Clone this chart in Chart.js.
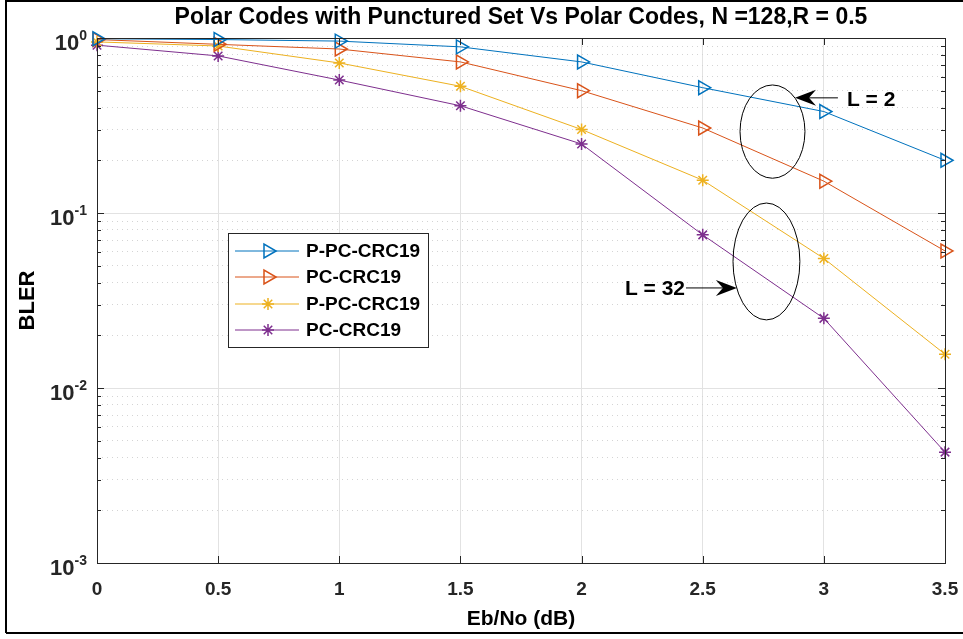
<!DOCTYPE html>
<html>
<head>
<meta charset="utf-8">
<script src="https://cdn.jsdelivr.net/npm/chart.js@4.4.1/dist/chart.umd.min.js"></script>
<style>
  html, body { margin: 0; padding: 0; background: #fff; }
  canvas { display: block; }
</style>
</head>
<body>
<canvas id="chart" width="963" height="639"></canvas>
<script>
// Eb/No (dB) values on the x axis
const ebno = [0, 0.5, 1, 1.5, 2, 2.5, 3, 3.5];
const xTickLabels = ['0', '0.5', '1', '1.5', '2', '2.5', '3', '3.5'];
const yTickExps = [0, -1, -2, -3];

// BLER per series
const seriesNames = ['P-PC-CRC19', 'PC-CRC19', 'P-PC-CRC19', 'PC-CRC19'];
const pPcL2 = [0.99, 0.98, 0.96, 0.89, 0.73, 0.52, 0.38, 0.20];
const pcL2 = [0.98, 0.92, 0.865, 0.73, 0.50, 0.306, 0.152, 0.0607];
const pPcL32 = [0.95, 0.90, 0.72, 0.53, 0.30, 0.154, 0.055, 0.0156];
const pcL32 = [0.91, 0.79, 0.575, 0.41, 0.248, 0.075, 0.025, 0.0043];

const colors = ['#0072BD', '#D95319', '#EDB120', '#7E2F8E'];
const FONT = "'Liberation Sans', Arial, sans-serif";
const AX = '#262626';

const toPoints = (ys) => ys.map((y, i) => ({ x: ebno[i], y: y }));

function seriesStyle(i, marker) {
  const tri = marker === 'triangle';
  return {
    borderColor: colors[i],
    backgroundColor: 'rgba(0,0,0,0)',
    borderWidth: 1,
    pointStyle: marker,
    pointRotation: tri ? 90 : 0,
    pointRadius: tri ? 8 : 6,
    pointBorderColor: colors[i],
    pointBackgroundColor: 'rgba(0,0,0,0)',
    pointBorderWidth: 1.5,
    tension: 0,
    clip: false
  };
}

const isMajor = (v) => Math.abs(Math.log10(v) - Math.round(Math.log10(v))) < 1e-6;

// log ticks 1..9 x 10^e
const logTicks = [];
for (let e = -3; e < 0; e++) {
  for (let m = 1; m <= 9; m++) logTicks.push(Number((m * Math.pow(10, e)).toPrecision(3)));
}
logTicks.push(1);

// annotation shapes, in data units
const ellipses = [
  { x0: 2.654, x1: 2.922, yTop: 0.539, yBot: 0.158 },
  { x0: 2.625, x1: 2.901, yTop: 0.114, yBot: 0.0245 }
];
const arrows = [
  { from: [3.058, 0.455], to: [2.881, 0.455], text: 'L = 2', side: 'right' },
  { from: [2.431, 0.0373], to: [2.641, 0.0373], text: 'L = 32', side: 'left' }
];

function drawArrow(ctx, x1, y1, x2, y2) {
  const ang = Math.atan2(y2 - y1, x2 - x1);
  const len = 21, half = 8, notch = 14;
  const c = Math.cos(ang), s = Math.sin(ang);
  const bx = x2 - c * len, by = y2 - s * len;
  ctx.beginPath();
  ctx.moveTo(x1, y1);
  ctx.lineTo(x2 - c * notch, y2 - s * notch);
  ctx.stroke();
  ctx.beginPath();
  ctx.moveTo(x2, y2);
  ctx.lineTo(bx - s * half, by + c * half);
  ctx.lineTo(x2 - c * notch, y2 - s * notch);
  ctx.lineTo(bx + s * half, by - c * half);
  ctx.closePath();
  ctx.fill();
}

const decorPlugin = {
  id: 'decor',
  beforeDraw(chart) {
    const ctx = chart.ctx;
    ctx.save();
    ctx.fillStyle = '#fff';
    ctx.fillRect(0, 0, chart.width, chart.height);
    ctx.restore();
  },
  afterDraw(chart) {
    const ctx = chart.ctx;
    const a = chart.chartArea;
    const xs = chart.scales.x, ys = chart.scales.y;
    ctx.save();

    // axes box
    ctx.strokeStyle = AX;
    ctx.lineWidth = 1;
    ctx.strokeRect(Math.round(a.left) + 0.5, Math.round(a.top) + 0.5,
      Math.round(a.right - a.left), Math.round(a.bottom - a.top));

    // inward ticks
    ctx.beginPath();
    xTickLabels.forEach((t, i) => {
      const px = Math.round(xs.getPixelForValue(ebno[i])) + 0.5;
      ctx.moveTo(px, a.bottom); ctx.lineTo(px, a.bottom - 7);
      ctx.moveTo(px, a.top); ctx.lineTo(px, a.top + 7);
    });
    logTicks.forEach((v) => {
      const py = Math.round(ys.getPixelForValue(v)) + 0.5;
      const l = isMajor(v) ? 7 : 4;
      ctx.moveTo(a.left, py); ctx.lineTo(a.left + l, py);
      ctx.moveTo(a.right, py); ctx.lineTo(a.right - l, py);
    });
    ctx.stroke();

    // x tick labels
    ctx.fillStyle = AX;
    ctx.font = 'bold 19px ' + FONT;
    ctx.textAlign = 'center';
    ctx.textBaseline = 'alphabetic';
    xTickLabels.forEach((t, i) => {
      ctx.fillText(t, xs.getPixelForValue(ebno[i]), a.bottom + 32);
    });

    // y tick labels 10^e
    yTickExps.forEach((e) => {
      const py = ys.getPixelForValue(Math.pow(10, e));
      ctx.font = 'bold 14px ' + FONT;
      ctx.textAlign = 'left';
      const expStr = String(e);
      const ew = ctx.measureText(expStr).width;
      const right = a.left - 10;
      ctx.fillText(expStr, right - ew, py + 2);
      ctx.font = 'bold 22px ' + FONT;
      ctx.textAlign = 'right';
      ctx.fillText('10', right - ew, py + 12);
    });

    // axis titles
    ctx.fillStyle = '#000';
    ctx.font = 'bold 21px ' + FONT;
    ctx.textAlign = 'center';
    ctx.fillText('Eb/No (dB)', (a.left + a.right) / 2, 625);
    ctx.save();
    ctx.translate(28, (a.top + a.bottom) / 2);
    ctx.rotate(-Math.PI / 2);
    ctx.font = 'bold 22px ' + FONT;
    ctx.textBaseline = 'middle';
    ctx.fillText('BLER', 0, 0);
    ctx.restore();

    // title
    ctx.font = 'bold 23px ' + FONT;
    ctx.textBaseline = 'middle';
    ctx.fillText('Polar Codes with Punctured Set Vs Polar Codes, N =128,R = 0.5', (a.left + a.right) / 2, 18);

    // legend
    const lx = 228.5, ly = 233.5, lw = 200, lh = 114;
    ctx.fillStyle = '#fff';
    ctx.fillRect(lx, ly, lw, lh);
    ctx.strokeStyle = AX;
    ctx.lineWidth = 1;
    ctx.strokeRect(lx, ly, lw, lh);
    const rows = [251, 277, 304, 330];
    chart.data.datasets.forEach((ds, i) => {
      const y = rows[i];
      ctx.strokeStyle = ds.borderColor;
      ctx.lineWidth = 1;
      ctx.beginPath();
      ctx.moveTo(235, y); ctx.lineTo(299, y);
      ctx.stroke();
      ctx.fillStyle = 'rgba(0,0,0,0)';
      ctx.lineWidth = ds.pointBorderWidth;
      Chart.helpers.drawPoint(ctx, {
        pointStyle: ds.pointStyle, radius: ds.pointRadius,
        rotation: ds.pointRotation, borderWidth: ds.pointBorderWidth
      }, 268, y);
      ctx.fillStyle = '#000';
      ctx.font = 'bold 19px ' + FONT;
      ctx.textAlign = 'left';
      ctx.textBaseline = 'middle';
      ctx.fillText(ds.label, 306, y + 1);
    });

    // annotations
    ctx.strokeStyle = '#000';
    ctx.fillStyle = '#000';
    ctx.lineWidth = 1;
    ellipses.forEach((el) => {
      const x0 = xs.getPixelForValue(el.x0), x1 = xs.getPixelForValue(el.x1);
      const y0 = ys.getPixelForValue(el.yTop), y1 = ys.getPixelForValue(el.yBot);
      ctx.beginPath();
      ctx.ellipse((x0 + x1) / 2, (y0 + y1) / 2, (x1 - x0) / 2, (y1 - y0) / 2, 0, 0, Math.PI * 2);
      ctx.stroke();
    });
    ctx.font = 'bold 21px ' + FONT;
    ctx.textBaseline = 'middle';
    arrows.forEach((ar) => {
      const fx = xs.getPixelForValue(ar.from[0]), fy = ys.getPixelForValue(ar.from[1]);
      const tx = xs.getPixelForValue(ar.to[0]), ty = ys.getPixelForValue(ar.to[1]);
      drawArrow(ctx, fx, fy, tx, ty);
      if (ar.side === 'right') {
        ctx.textAlign = 'left';
        ctx.fillText(ar.text, fx + 9, fy + 2);
      } else {
        ctx.textAlign = 'right';
        ctx.fillText(ar.text, fx - 1, fy + 1);
      }
    });

    // figure frame
    ctx.strokeStyle = '#000';
    ctx.lineWidth = 2;
    ctx.beginPath();
    ctx.moveTo(6, 633); ctx.lineTo(6, 1); ctx.lineTo(963, 1);
    ctx.moveTo(6, 633); ctx.lineTo(963, 633);
    ctx.stroke();

    ctx.restore();
  }
};

new Chart(document.getElementById('chart'), {
  type: 'line',
  data: {
    datasets: [
      { label: seriesNames[0], data: toPoints(pPcL2), ...seriesStyle(0, 'triangle') },
      { label: seriesNames[1], data: toPoints(pcL2), ...seriesStyle(1, 'triangle') },
      { label: seriesNames[2], data: toPoints(pPcL32), ...seriesStyle(2, 'star') },
      { label: seriesNames[3], data: toPoints(pcL32), ...seriesStyle(3, 'star') }
    ]
  },
  options: {
    responsive: false,
    animation: false,
    layout: { padding: { left: 97, top: 38, right: 18, bottom: 76 } },
    plugins: {
      legend: { display: false },
      title: { display: false },
      tooltip: { enabled: false }
    },
    scales: {
      x: {
        type: 'linear', min: 0, max: 3.5,
        ticks: { display: false, stepSize: 0.5 },
        grid: { color: '#e2e2e2', lineWidth: 1, drawTicks: false },
        border: { display: false }
      },
      y: {
        type: 'logarithmic', min: 0.001, max: 1,
        afterBuildTicks: (scale) => {
          scale.ticks = logTicks.map((v) => ({ value: v, major: isMajor(v) }));
        },
        ticks: { display: false },
        grid: {
          drawTicks: false,
          lineWidth: 1,
          color: (c) => (c.tick && isMajor(c.tick.value)) ? '#e2e2e2' : '#d4d4d4',
          borderDash: (c) => (c.tick && isMajor(c.tick.value)) ? [] : [1, 4]
        },
        border: {
          display: false,
          dash: (c) => (c.tick && isMajor(c.tick.value)) ? [] : [1, 4]
        }
      }
    }
  },
  plugins: [decorPlugin]
});
</script>
</body>
</html>
